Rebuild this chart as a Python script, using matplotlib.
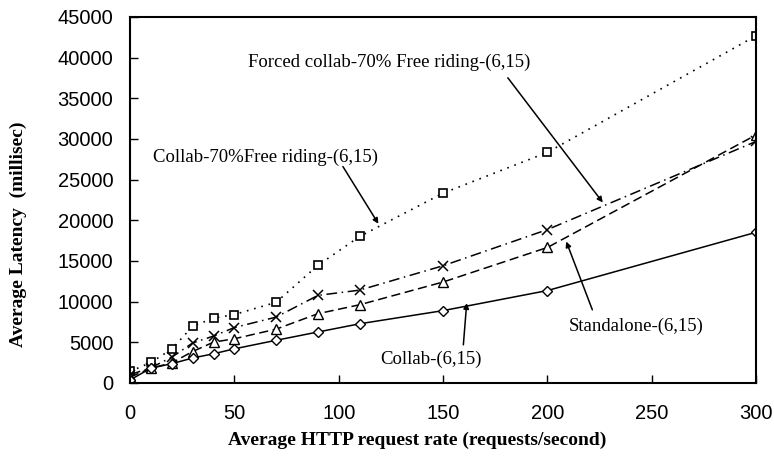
import matplotlib.pyplot as plt

# debit de requetes HTTP (requetes/seconde)
rate = [0, 10, 20, 30, 40, 50, 70, 90, 110, 150, 200, 300]

# latence moyenne (ms)
forced_collab = [1400, 2500, 4150, 6950, 7950, 8400, 9900, 14450, 18000, 23330, 28350, 42700]
collab_free = [1000, 1850, 3150, 4900, 5750, 6800, 8080, 10750, 11400, 14400, 18850, 29700]
standalone = [700, 1800, 2450, 3850, 5000, 5420, 6600, 8500, 9600, 12400, 16650, 30500]
collab = [350, 1800, 2350, 3050, 3570, 4180, 5230, 6250, 7260, 8880, 11350, 18520]

fig = plt.figure(figsize=(7.74, 4.59), dpi=100)
ax = fig.add_axes([0.168, 0.166, 0.809, 0.797])

ax.plot(rate, forced_collab, color="black", lw=1.2, ls=(0, (1, 3.5)),
        marker="s", ms=5.5, mfc="white", mec="black", mew=1.2)
ax.plot(rate, collab_free, color="black", lw=1.1, ls=(0, (7, 3, 1, 3)),
        marker="x", ms=7, mec="black", mew=1.1)
ax.plot(rate, standalone, color="black", lw=1.1, ls=(0, (6, 3)),
        marker="^", ms=6.5, mfc="white", mec="black", mew=1)
ax.plot(rate, collab, color="black", lw=1.1, ls="-",
        marker="D", ms=5, mfc="white", mec="black", mew=1)

ax.set_xlim(0, 300)
ax.set_ylim(0, 45000)
ax.set_xticks(range(0, 301, 50))
ax.set_yticks(range(0, 45001, 5000))
ax.tick_params(direction="in", length=6, width=1, labelsize=14.5)
ax.tick_params(axis="x", pad=15.5)
ax.tick_params(axis="y", pad=12)
for lab in ax.get_xticklabels() + ax.get_yticklabels():
    lab.set_family("Liberation Sans")
for s in ax.spines.values():
    s.set_linewidth(1.5)

ax.set_xlabel("Average HTTP request rate (requests/second)", family="Liberation Serif",
              fontweight="bold", fontsize=14, va="center")
ax.set_ylabel("Average Latency  (millisec)", family="Liberation Serif",
              fontweight="bold", fontsize=14, va="center")
ax.xaxis.set_label_coords(0.458, -0.156)
ax.yaxis.set_label_coords(-0.179, 0.407)

fnt = dict(family="Liberation Serif", fontsize=13.5, ha="center", va="center")
arr = dict(arrowstyle="-|>", color="black", lw=1.1, mutation_scale=8, shrinkA=0, shrinkB=0)

ax.text(124, 39360, "Forced collab-70% Free riding-(6,15)", **fnt)
ax.annotate("", xy=(226.5, 22180), xytext=(181, 37520), arrowprops=arr)

ax.text(65, 27680, "Collab-70%Free riding-(6,15)", **fnt)
ax.annotate("", xy=(119, 19560), xytext=(102, 26600), arrowprops=arr)

ax.text(242.5, 6890, "Standalone-(6,15)", **fnt)
ax.annotate("", xy=(209, 17380), xytext=(221.5, 8980), arrowprops=arr)

ax.text(144, 2830, "Collab-(6,15)", **fnt)
ax.annotate("", xy=(161.3, 9800), xytext=(159.7, 4670), arrowprops=arr)

fig.savefig("out.png", dpi=100)
